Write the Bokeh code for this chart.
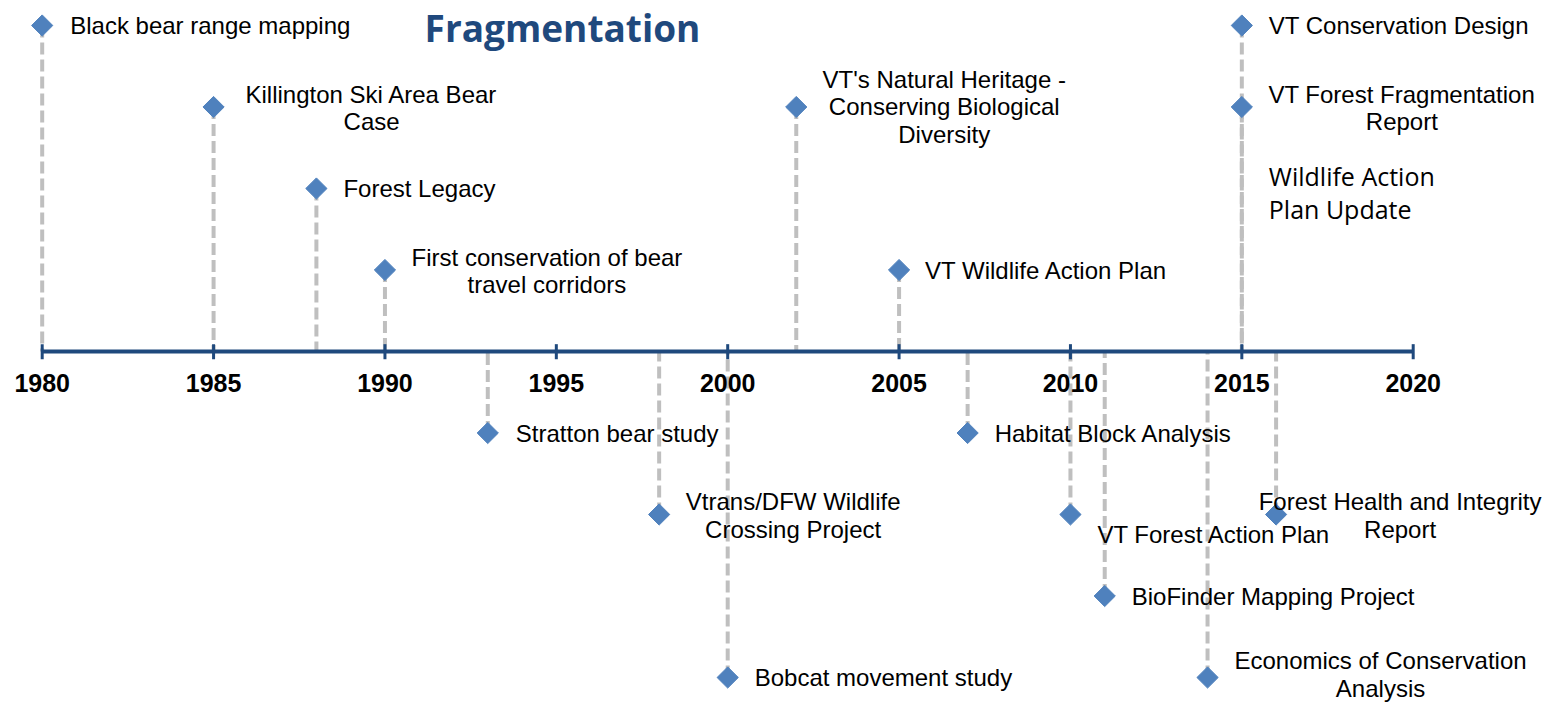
from bokeh.plotting import figure
from bokeh.models import ColumnDataSource, Label, Range1d
from bokeh.core.properties import value
from bokeh.embed import file_html
from bokeh.resources import INLINE
import numpy as np

# ---- data ----
years = [1980, 1985, 1988, 1990, 1993, 1998, 2000, 2002, 2005, 2007,
         2010, 2011, 2014, 2015, 2015, 2016]
levels = [4, 3, 2, 1, -1, -2, -4, 3, 1, -1, -2, -3, -4, 4, 3, -2]
labels = [
    "Black bear range mapping",
    "Killington Ski Area Bear\nCase",
    "Forest Legacy",
    "First conservation of bear\ntravel corridors",
    "Stratton bear study",
    "Vtrans/DFW Wildlife\nCrossing Project",
    "Bobcat movement study",
    "VT's Natural Heritage -\nConserving Biological\nDiversity",
    "VT Wildlife Action Plan",
    "Habitat Block Analysis",
    "VT Forest Action Plan",
    "BioFinder Mapping Project",
    "Economics of Conservation\nAnalysis",
    "VT Conservation Design",
    "VT Forest Fragmentation\nReport",
    "Forest Health and Integrity\nReport",
]
note_year = 2015
note_level = 1.95
note_text = "Wildlife Action\nPlan Update"
axis_years = [1980, 1985, 1990, 1995, 2000, 2005, 2010, 2015, 2020]
axis_labels = [str(y) for y in axis_years]
title_text = "Fragmentation"

# ---- label layout (style only): (align, x_offset px, y_offset px) ----
layout = [
    ("left", 28, 0), ("center", 158, 1), ("left", 27, 0), ("center", 162, 1),
    ("left", 28, 0), ("center", 134, 1), ("left", 27, 0), ("center", 148, 0),
    ("left", 26, 0), ("left", 27, 0), ("left", 27, 20), ("left", 27, 0),
    ("center", 173, -3), ("left", 27, 0), ("center", 160, 1), ("center", 124, 1),
]

W, H = 1544, 702
px_per_year = 34.275
px_per_level = 81.5
x0 = 1980 - 41.7 / px_per_year
y_top = 351 / px_per_level
p = figure(width=W, height=H, output_backend="svg", toolbar_location=None,
           x_range=Range1d(x0, x0 + W / px_per_year),
           y_range=Range1d(y_top - H / px_per_level, y_top),
           min_border=0, x_axis_location=None, y_axis_location=None)
p.outline_line_color = None
p.xgrid.visible = False
p.ygrid.visible = False
p.background_fill_color = "white"

ev = ColumnDataSource(dict(
    x=years, y=levels, zero=[0] * len(years), text=labels,
    align=[l[0] for l in layout], xo=[l[1] for l in layout], yo=[l[2] for l in layout],
))

# drop lines
p.segment(x0="x", y0="y", x1="x", y1="zero", source=ev,
          line_color="#BFBFBF", line_width=4, line_dash="12 5")

# axis line and ticks
axis_color = "#1F497D"
p.segment(x0=[axis_years[0]], y0=[0], x1=[axis_years[-1]], y1=[0],
          line_color=axis_color, line_width=4)
p.segment(x0=axis_years, y0=[-0.095] * len(axis_years), x1=axis_years,
          y1=[0.09] * len(axis_years), line_color=axis_color, line_width=3)
p.text(x=axis_years, y=[0] * len(axis_years), text=axis_labels, y_offset=31,
       text_align="center", text_baseline="middle",
       text_font=value("Liberation Sans"), text_font_style="bold",
       text_font_size="25px", text_color="black")

# markers
p.scatter(x="x", y="y", source=ev, marker="square", angle=np.pi / 4, size=15,
          fill_color="#4F81BD", line_color="#4F81BD")

# event labels
p.text(x="x", y="y", text="text", source=ev, x_offset="xo", y_offset="yo",
       text_align="align", text_baseline="middle",
       text_font=value("Liberation Sans"), text_font_size="24px",
       text_color="black", text_line_height=1.03)

# note without marker
p.text(x=[note_year], y=[note_level], text=[note_text], x_offset=27,
       text_align="left", text_baseline="middle",
       text_font=value("Open Sans"), text_font_size="25px",
       text_color="black", text_line_height=0.97)

# title
p.add_layout(Label(x=1980 + (562 - 41.7) / px_per_year, y=(351 - 1) / px_per_level,
                   text=title_text, text_align="center", text_baseline="top",
                   text_font="Open Sans", text_font_style="bold", text_font_size="37px",
                   text_color="#1F497D"))

open("out.html", "w").write(file_html(p, INLINE))
